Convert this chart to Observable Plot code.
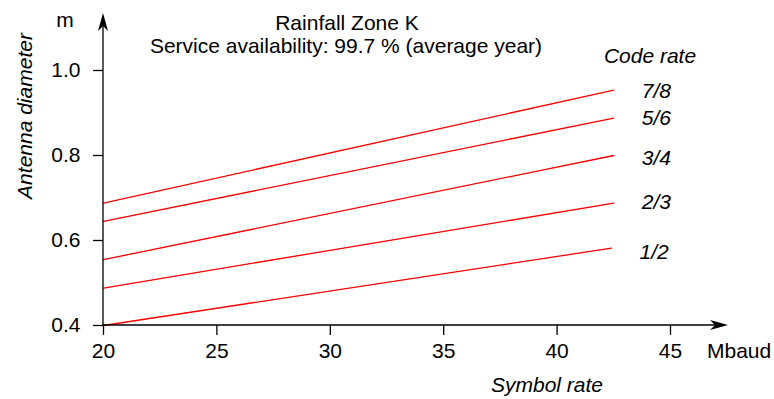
<!DOCTYPE html>
<html>
<head>
<meta charset="utf-8">
<script src="https://cdn.jsdelivr.net/npm/d3@7"></script>
<script src="https://cdn.jsdelivr.net/npm/@observablehq/plot@0.6"></script>
<style>
  html, body { margin: 0; padding: 0; background: #fff; }
  #chart svg { display: block; }
</style>
</head>
<body>
<div id="chart"></div>
<script>
// Data
const codeRates = ["7/8", "5/6", "3/4", "2/3", "1/2"];
const startRate = [20, 20, 20, 20, 20];                 // Mbaud
const endRate = [42.5, 42.5, 42.5, 42.5, 42.4];        // Mbaud
const diamAtStart = [0.688, 0.645, 0.555, 0.488, 0.400]; // m
const diamAtEnd = [0.954, 0.888, 0.800, 0.688, 0.582];   // m
const xTicks = [20, 25, 30, 35, 40, 45];
const yTicks = [0.4, 0.6, 0.8, 1.0];

const lineData = [];
codeRates.forEach((r, i) => {
  lineData.push({rate: r, x: startRate[i], y: diamAtStart[i]});
  lineData.push({rate: r, x: endRate[i], y: diamAtEnd[i]});
});
const labelData = codeRates.map((r, i) => ({rate: r, x: endRate[i], y: diamAtEnd[i]}));
const labelNudge = [1, 0.5, 2.5, -1, 4]; // vertical pixel nudges of the labels

const FONT = "'Liberation Sans', Arial, Helvetica, sans-serif";
const FS = 21;

const chart = Plot.plot({
  width: 774,
  height: 399,
  marginLeft: 103,
  marginRight: 104,
  marginTop: 70,
  marginBottom: 74,
  style: {fontFamily: FONT, fontSize: FS + "px", color: "#000", background: "#fff", overflow: "visible"},
  x: {domain: [20, 45]},
  y: {domain: [0.4, 1.0]},
  marks: [
    Plot.axisX({ticks: xTicks, tickSize: 10, tickPadding: 8, label: null, fontSize: FS, tickFormat: d => d3.format("d")(d)}),
    Plot.axisY({ticks: yTicks, tickSize: 10, tickPadding: 13, label: null, fontSize: FS, tickFormat: d3.format(".1f")}),
    Plot.line(lineData, {x: "x", y: "y", z: "rate", stroke: "#ff0000", strokeWidth: 1.3}),
    ...labelData.map((d, i) => Plot.text([d], {x: "x", y: "y", text: "rate", textAnchor: "start", dx: 28, dy: labelNudge[i], fontStyle: "italic", fontSize: FS, fill: "#000"}))
  ]
});

const svg = d3.select(chart);
// make sure tick labels use the large font
svg.selectAll("g[aria-label$='tick label']").attr("font-size", FS).selectAll("text").attr("font-size", FS);
svg.selectAll("g[aria-label$='tick']").attr("stroke", "#000").attr("stroke-width", 1.3);

const sx = chart.scale("x");
const sy = chart.scale("y");
const x0 = sx.apply(20), y0 = sy.apply(0.4);
const xEnd = 728, yEnd = 13;

// axis lines with arrowheads
svg.append("line").attr("x1", x0).attr("y1", y0).attr("x2", xEnd - 6).attr("y2", y0).attr("stroke", "#000").attr("stroke-width", 1.3);
svg.append("line").attr("x1", x0).attr("y1", y0).attr("x2", x0).attr("y2", yEnd + 6).attr("stroke", "#000").attr("stroke-width", 1.3);
svg.append("path").attr("d", `M${xEnd},${y0} L${xEnd-18},${y0-5} L${xEnd-13},${y0} L${xEnd-18},${y0+5} Z`).attr("fill", "#000");
svg.append("path").attr("d", `M${x0},${yEnd} L${x0-5},${yEnd+18} L${x0},${yEnd+13} L${x0+5},${yEnd+18} Z`).attr("fill", "#000");

function addText(x, y, txt, opts = {}) {
  const t = svg.append("text")
    .attr("x", x).attr("y", y)
    .attr("font-family", FONT)
    .attr("font-size", opts.size || FS)
    .attr("text-anchor", opts.anchor || "middle")
    .attr("fill", "#000")
    .text(txt);
  if (opts.italic) t.attr("font-style", "italic");
  if (opts.rotate) t.attr("transform", `rotate(-90, ${x}, ${y})`);
  return t;
}

addText(347, 30, "Rainfall Zone K");
addText(346, 53, "Service availability: 99.7 % (average year)");
addText(650, 63, "Code rate", {italic: true});
addText(65, 27, "m");
addText(32, 116, "Antenna diameter", {italic: true, rotate: true});
addText(547, 392, "Symbol rate", {italic: true});
addText(707, 358, "Mbaud", {anchor: "start"});

document.getElementById("chart").appendChild(chart);
</script>
</body>
</html>
